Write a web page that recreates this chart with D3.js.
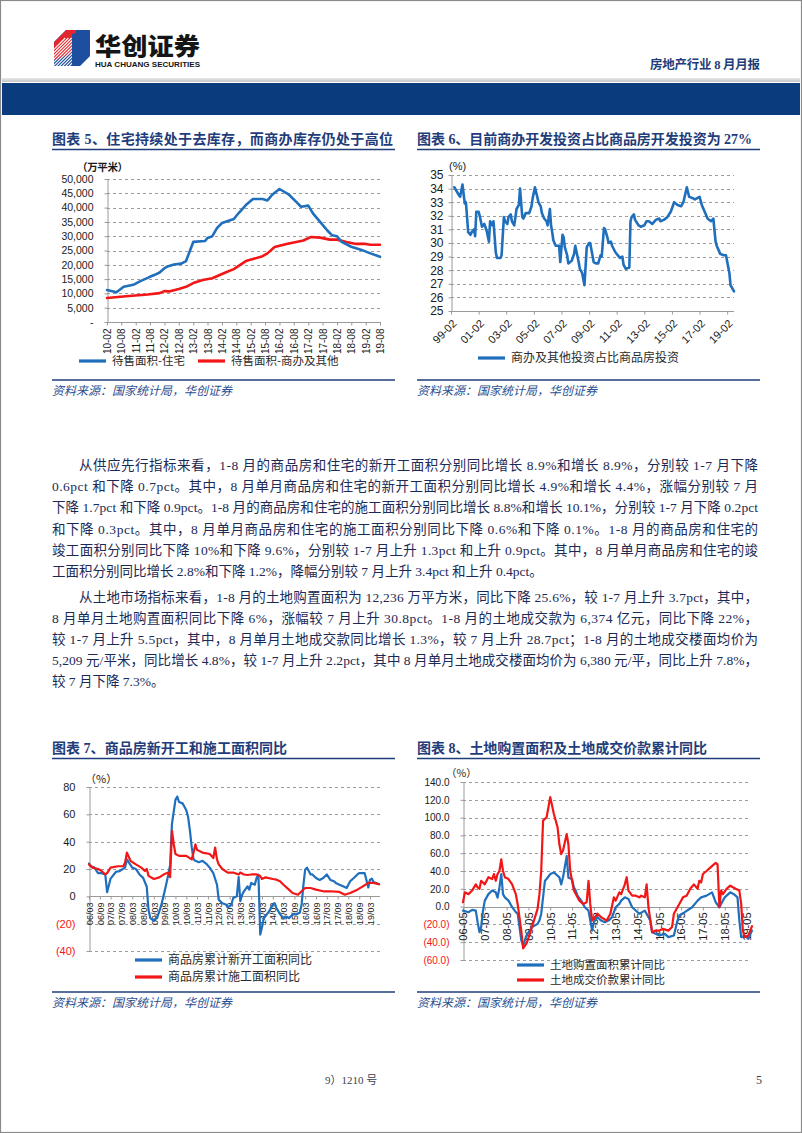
<!DOCTYPE html>
<html><head><meta charset="utf-8">
<script src="https://cdn.jsdelivr.net/npm/d3@7"></script>
<style>html,body{margin:0;padding:0;background:#fff}svg{display:block}</style>
</head><body>
<svg id="page" width="802" height="1133"></svg>
<script>
// ---------------- DATA ----------------
const ch5Ticks = ["2010-02","2010-08","2011-02","2011-08","2012-02","2012-08","2013-02","2013-08","2014-02","2014-08","2015-02","2015-08","2016-02","2016-08","2017-02","2017-08","2018-02","2018-08","2019-02","2019-08"];
const ch5YTicks = [0,5000,10000,15000,20000,25000,30000,35000,40000,45000,50000];
const ch5Residential = [["2010-02",11200],["2010-06",10400],["2010-09",12300],["2011-01",13000],["2011-04",14300],["2011-08",15800],["2011-10",16500],["2011-12",17300],["2012-02",18800],["2012-03",19300],["2012-06",20100],["2012-09",20400],["2012-11",21300],["2013-02",28000],["2013-07",28300],["2013-08",29400],["2013-10",30000],["2013-12",32900],["2014-02",34600],["2014-07",36000],["2014-09",38100],["2014-12",40900],["2015-03",43000],["2015-07",43000],["2015-09",42500],["2015-11",44500],["2016-02",46500],["2016-06",44500],["2016-09",42000],["2016-11",40300],["2017-02",40700],["2017-04",38000],["2017-07",35000],["2017-10",32000],["2017-12",30300],["2018-02",30000],["2018-04",28000],["2018-08",26300],["2018-12",25300],["2019-04",24000],["2019-08",22800]];
const ch5Commercial = [["2010-02",8400],["2010-10",9000],["2011-07",9600],["2011-12",10100],["2012-02",10800],["2012-04",10700],["2012-08",11500],["2012-11",12300],["2013-02",13600],["2013-06",14700],["2013-10",15300],["2014-02",16800],["2014-04",17500],["2014-07",18500],["2014-12",21300],["2015-03",22000],["2015-07",23000],["2015-09",24000],["2015-12",26200],["2016-05",27300],["2016-09",28000],["2016-12",28500],["2017-03",29700],["2017-07",29500],["2017-11",28800],["2018-02",28800],["2018-06",28000],["2018-10",27300],["2019-02",27300],["2019-04",27000],["2019-08",27000]];

const ch6Ticks = ["1999-02","2001-02","2003-02","2005-02","2007-02","2009-02","2011-02","2013-02","2015-02","2017-02","2019-02"];
const ch6YTicks = [25,26,27,28,29,30,31,32,33,34,35];
const ch6Share = [["1999-05",34.1],["1999-09",33.5],["1999-10",33.4],["1999-12",34.3],["2000-02",32.9],["2000-03",33.0],["2000-05",30.8],["2000-07",30.6],["2000-08",30.8],["2000-10",31.0],["2000-11",30.5],["2000-12",32.3],["2001-02",32.3],["2001-03",32.0],["2001-05",31.2],["2001-07",31.4],["2001-09",30.9],["2001-11",30.1],["2001-12",31.6],["2002-02",31.3],["2002-03",31.6],["2002-05",29.3],["2002-06",28.9],["2002-09",28.9],["2002-10",29.1],["2002-12",31.9],["2003-01",31.6],["2003-03",31.4],["2003-04",31.9],["2003-06",32.1],["2003-07",31.6],["2003-09",31.3],["2003-11",32.5],["2004-01",32.8],["2004-02",34.0],["2004-04",31.9],["2004-05",31.8],["2004-07",32.2],["2004-10",32.2],["2004-12",32.7],["2005-01",33.3],["2005-03",34.1],["2005-05",33.4],["2005-06",33.0],["2005-08",32.7],["2005-09",32.2],["2005-11",31.8],["2006-01",31.6],["2006-02",31.3],["2006-04",32.5],["2006-05",31.3],["2006-06",30.8],["2006-07",30.2],["2006-09",29.8],["2006-12",29.8],["2007-01",28.6],["2007-03",30.6],["2007-04",30.4],["2007-05",29.7],["2007-07",29.1],["2007-08",28.5],["2007-11",28.7],["2008-01",29.2],["2008-02",29.8],["2008-04",29.0],["2008-05",28.6],["2008-06",28.1],["2008-08",27.8],["2008-10",26.9],["2008-12",29.7],["2009-02",30.0],["2009-03",30.0],["2009-05",29.1],["2009-06",28.6],["2009-08",28.5],["2009-10",28.5],["2009-12",29.1],["2010-01",29.0],["2010-03",31.1],["2010-04",31.0],["2010-06",30.4],["2010-07",30.0],["2010-09",30.1],["2010-10",29.8],["2011-01",29.3],["2011-04",29.0],["2011-05",28.9],["2011-07",29.0],["2011-08",28.4],["2011-10",28.1],["2012-01",28.2],["2012-02",31.6],["2012-03",31.9],["2012-05",32.1],["2012-06",31.7],["2012-09",31.3],["2012-11",31.2],["2013-02",31.3],["2013-04",31.6],["2013-06",31.6],["2013-09",31.4],["2013-12",31.7],["2014-03",31.8],["2014-04",31.6],["2014-07",31.7],["2014-10",31.9],["2015-01",32.3],["2015-04",33.0],["2015-07",32.8],["2015-10",32.7],["2015-12",33.0],["2016-03",34.1],["2016-05",33.4],["2016-08",33.3],["2016-10",33.2],["2017-02",33.4],["2017-04",32.8],["2017-07",32.2],["2017-09",31.8],["2017-12",31.6],["2018-02",31.8],["2018-04",30.1],["2018-05",29.8],["2018-08",29.2],["2018-11",29.1],["2019-01",29.1],["2019-04",27.8],["2019-05",26.9],["2019-07",26.6],["2019-08",26.45]];

const ch7Ticks = ["2006-03","2006-09","2007-03","2007-09","2008-03","2008-09","2009-03","2009-09","2010-03","2010-09","2011-03","2011-09","2012-03","2012-09","2013-03","2013-09","2014-03","2014-09","2015-03","2015-09","2016-03","2016-09","2017-03","2017-09","2018-03","2018-09","2019-03"];
const ch7YTicks = [-40,-20,0,20,40,60,80];
const ch7NewStarts = [["2006-03",24],["2006-04",22],["2006-06",21],["2006-08",17],["2006-10",17],["2006-12",16],["2007-01",3],["2007-03",13],["2007-06",18],["2007-08",18.5],["2007-11",21],["2007-12",27],["2008-03",21],["2008-05",20],["2008-07",16],["2008-09",13.5],["2008-11",7],["2008-12",-10],["2009-01",-16],["2009-03",-18],["2009-05",-15],["2009-07",-7],["2009-09",4],["2009-11",16],["2009-12",23],["2010-01",53],["2010-03",70.6],["2010-04",73],["2010-05",69],["2010-07",68],["2010-09",63],["2010-10",58],["2010-11",48],["2010-12",36],["2011-01",27],["2011-02",26],["2011-04",25],["2011-06",26],["2011-08",24],["2011-10",21],["2011-12",17],["2012-02",8.5],["2012-03",-2.4],["2012-05",-5],["2012-07",-6],["2012-08",-8],["2012-10",-6],["2012-11",-1.2],["2013-01",0],["2013-02",14],["2013-03",-3.6],["2013-04",1.2],["2013-05",3.7],["2013-07",7.3],["2013-08",4.9],["2013-09",9.8],["2013-11",8.5],["2013-12",13.4],["2014-01",15.9],["2014-02",-28],["2014-03",-23],["2014-04",-16],["2014-07",-11],["2014-09",-6],["2014-10",-5],["2014-11",-8.5],["2015-01",-13],["2015-03",-16],["2015-05",-15],["2015-06",-16],["2015-08",-13.4],["2015-10",-13],["2015-12",-12],["2016-01",-6],["2016-02",8.5],["2016-03",19.5],["2016-04",21],["2016-05",18.5],["2016-06",16],["2016-07",16],["2016-09",13.4],["2016-11",12],["2017-01",13.4],["2017-03",16],["2017-05",12],["2017-07",11],["2017-08",9.8],["2017-10",8.5],["2017-12",7.3],["2018-02",6.1],["2018-03",8.5],["2018-04",11],["2018-06",13.4],["2018-08",16],["2018-09",17],["2018-11",17],["2018-12",17],["2019-02",6.5],["2019-03",12],["2019-04",13],["2019-05",10.5],["2019-06",10],["2019-07",9.5],["2019-08",8.9]];
const ch7UnderConstruction = [["2006-03",23.4],["2006-05",21],["2006-08",20],["2006-10",18.5],["2006-12",16],["2007-01",17],["2007-03",21],["2007-07",22],["2007-10",22],["2007-11",24.7],["2007-12",32],["2008-02",26],["2008-05",23.4],["2008-08",21],["2008-10",18.5],["2008-11",20],["2008-12",15],["2009-03",12.7],["2009-06",13.9],["2009-09",16.4],["2009-11",17.4],["2009-12",14],["2010-01",48],["2010-02",38],["2010-03",31],["2010-05",29.6],["2010-09",29.6],["2010-12",27],["2011-01",32],["2011-02",38],["2011-03",34],["2011-06",32],["2011-10",31],["2011-12",28],["2012-01",35.7],["2012-02",27],["2012-03",23.4],["2012-05",20],["2012-08",17.4],["2012-11",17.4],["2013-02",16],["2013-03",17.4],["2013-05",16],["2013-07",15.6],["2013-09",16],["2013-12",16],["2014-02",14.9],["2014-03",12.7],["2014-05",13.9],["2014-09",12.7],["2014-11",12.2],["2015-01",11],["2015-03",8.5],["2015-06",4.9],["2015-08",2.4],["2015-11",1.2],["2016-01",3.7],["2016-03",6.1],["2016-06",6.1],["2016-09",4.9],["2017-01",3.7],["2017-05",3.7],["2017-10",3.2],["2018-01",1.2],["2018-04",2.4],["2018-08",4.9],["2018-11",7.3],["2019-02",9.8],["2019-05",9.8],["2019-08",8.8]];

const ch8Ticks = ["2006-05","2007-05","2008-05","2009-05","2010-05","2011-05","2012-05","2013-05","2014-05","2015-05","2016-05","2017-05","2018-05","2019-05"];
const ch8YTicks = [-60,-40,-20,0,20,40,60,80,100,120,140];
const ch8LandArea = [["2006-05",-4.5],["2006-08",-6.3],["2006-10",-3.7],["2006-12",-4.5],["2007-01",-17.5],["2007-02",-28.7],["2007-03",-23],["2007-04",-4.5],["2007-05",6.7],["2007-07",14],["2007-09",18],["2007-11",16],["2007-12",10],["2008-01",21.6],["2008-02",36.6],["2008-03",14],["2008-04",10.4],["2008-06",6.7],["2008-08",-0.7],["2008-10",-6.3],["2008-11",-8],["2009-01",-38],["2009-02",-43.6],["2009-04",-32],["2009-07",-23],["2009-10",-19.4],["2009-11",-15.7],["2009-12",-8],["2010-02",29],["2010-03",31],["2010-05",36.6],["2010-07",38.4],["2010-09",34.7],["2010-10",32.8],["2010-11",25],["2010-12",33],["2011-02",57],["2011-03",32.5],["2011-05",31],["2011-06",21.6],["2011-07",18],["2011-08",12.3],["2011-10",6.7],["2011-12",-0.7],["2012-02",-4.5],["2012-04",-27],["2012-05",-17.5],["2012-07",-12],["2012-09",-15.7],["2012-11",-17.5],["2013-01",-15.7],["2013-03",-12],["2013-05",-0.7],["2013-07",3],["2013-08",6.7],["2013-10",10.4],["2013-12",8.6],["2014-02",-0.7],["2014-06",-8],["2014-09",-4.5],["2014-12",-15.7],["2015-01",-28.7],["2015-03",-30.6],["2015-05",-32.5],["2015-08",-30.6],["2015-10",-34.3],["2016-01",-32.5],["2016-03",-15.7],["2016-04",-10],["2016-07",-6.3],["2016-11",-0.7],["2017-02",6.7],["2017-04",10.4],["2017-07",12.3],["2017-10",16],["2017-12",4.9],["2018-02",-0.7],["2018-03",3],["2018-05",10.4],["2018-08",16],["2018-10",14],["2018-12",10.4],["2019-01",-15.7],["2019-02",-34.3],["2019-04",-32.5],["2019-06",-36.2],["2019-08",-27]];
const ch8LandValue = [["2006-05",4.9],["2006-06",16],["2006-08",14],["2006-10",18],["2006-12",25],["2007-01",21.6],["2007-02",20],["2007-03",29],["2007-05",25],["2007-07",33],["2007-09",31],["2007-10",36.6],["2007-11",29],["2007-12",36.6],["2008-01",40],["2008-02",53],["2008-03",40],["2008-04",33],["2008-06",31],["2008-08",25],["2008-10",14],["2008-11",3],["2009-01",-27],["2009-02",-47],["2009-04",-41],["2009-06",-29],["2009-08",-15.7],["2009-10",-2.6],["2009-11",14],["2009-12",40],["2010-01",96.6],["2010-03",100.4],["2010-04",111.7],["2010-05",123],["2010-07",104],["2010-09",89],["2010-10",70],["2010-11",59],["2010-12",63],["2011-02",81.5],["2011-03",70],["2011-04",40],["2011-05",29],["2011-06",18],["2011-08",10.4],["2011-09",6.7],["2011-11",3],["2012-01",4.9],["2012-02",29],["2012-03",3],["2012-04",-15.7],["2012-05",-13.8],["2012-07",-8],["2012-09",-12],["2012-12",-15.7],["2013-02",-8],["2013-04",10.4],["2013-05",6.7],["2013-07",16],["2013-08",14],["2013-10",25],["2013-11",33],["2013-12",18],["2014-02",12.3],["2014-04",12.3],["2014-06",10.4],["2014-07",12.3],["2014-09",10.4],["2014-10",25],["2014-11",-0.7],["2015-01",-28.7],["2015-03",-27],["2015-05",-27],["2015-07",-25],["2015-10",-27],["2015-12",-23],["2016-01",-8],["2016-03",-0.7],["2016-04",3],["2016-06",10.4],["2016-08",12.3],["2016-10",20],["2016-12",25],["2017-02",20],["2017-03",29],["2017-04",27],["2017-05",36.6],["2017-07",40],["2017-09",43.8],["2017-11",47.5],["2017-12",49],["2018-01",47.5],["2018-02",-0.7],["2018-03",18],["2018-04",14],["2018-06",20],["2018-08",23.5],["2018-11",20],["2019-01",18],["2019-02",3],["2019-03",-27],["2019-04",-34.3],["2019-06",-32.5],["2019-08",-22]];

const para1 = [
 "从供应先行指标来看，1-8 月的商品房和住宅的新开工面积分别同比增长 8.9%和增长 8.9%，分别较 1-7 月下降",
 "0.6pct 和下降 0.7pct。其中，8 月单月商品房和住宅的新开工面积分别同比增长 4.9%和增长 4.4%，涨幅分别较 7 月",
 "下降 1.7pct 和下降 0.9pct。1-8 月的商品房和住宅的施工面积分别同比增长 8.8%和增长 10.1%，分别较 1-7 月下降 0.2pct",
 "和下降 0.3pct。其中，8 月单月商品房和住宅的施工面积分别同比下降 0.6%和下降 0.1%。1-8 月的商品房和住宅的",
 "竣工面积分别同比下降 10%和下降 9.6%，分别较 1-7 月上升 1.3pct 和上升 0.9pct。其中，8 月单月商品房和住宅的竣",
 "工面积分别同比增长 2.8%和下降 1.2%，降幅分别较 7 月上升 3.4pct 和上升 0.4pct。"
];
const para2 = [
 "从土地市场指标来看，1-8 月的土地购置面积为 12,236 万平方米，同比下降 25.6%，较 1-7 月上升 3.7pct，其中，",
 "8 月单月土地购置面积同比下降 6%，涨幅较 7 月上升 30.8pct。1-8 月的土地成交款为 6,374 亿元，同比下降 22%，",
 "较 1-7 月上升 5.5pct，其中，8 月单月土地成交款同比增长 1.3%，较 7 月上升 28.7pct；1-8 月的土地成交楼面均价为",
 "5,209 元/平米，同比增长 4.8%，较 1-7 月上升 2.2pct，其中 8 月单月土地成交楼面均价为 6,380 元/平，同比上升 7.8%，",
 "较 7 月下降 7.3%。"
];

// ---------------- STYLE ----------------
const NAVY = "#1f3d7a", BLUE = "#1f6fbd", RED = "#f21616", GRID = "#9c9c9c", AXIS = "#9a9a9a";
const CJK = "'Noto Sans CJK SC', sans-serif";
const LAT = "'Liberation Sans', Arial, 'Noto Sans CJK SC', sans-serif";
const SERIF = "'Liberation Serif', 'Noto Sans CJK SC', serif";
const parse = d3.timeParse("%Y-%m");
const svg = d3.select("#page");

svg.append("rect").attr("x",0.5).attr("y",0.5).attr("width",801).attr("height",1132).attr("fill","none").attr("stroke","#8a8a8a").attr("stroke-width",1.2);

// ---------------- HEADER ----------------
const defs = svg.append("defs");
const gg = defs.append("linearGradient").attr("id","gline").attr("x1",0).attr("y1",0).attr("x2",0).attr("y2",1);
gg.append("stop").attr("offset","0%").attr("stop-color","#e8e8e8");
gg.append("stop").attr("offset","100%").attr("stop-color","#c4c4c4");
svg.append("rect").attr("x",2).attr("y",78).attr("width",798).attr("height",4).attr("fill","url(#gline)");
svg.append("rect").attr("x",2).attr("y",83).attr("width",798).attr("height",32).attr("fill","#0a3b7c");

defs.append("clipPath").attr("id","logoClip").append("path").attr("d","M54,42 L66,30 L90,30 L90,56 L80,66 L54,66 Z");
const logo = svg.append("g").attr("clip-path","url(#logoClip)");
logo.append("rect").attr("x",54).attr("y",30).attr("width",36).attr("height",36).attr("fill","#1e4f9e");
logo.append("path").attr("d","M54,42 L66,30 L76,30 L76,50 L66,56 L54,60 Z").attr("fill","#e3262d");
for (let i = -4; i < 12; i++) {
  logo.append("line").attr("x1",48+i*3.2).attr("y1",68).attr("x2",48+i*3.2+30).attr("y2",38)
    .attr("stroke","#fff").attr("stroke-width",1.1);
}
logo.append("path").attr("d","M72,34 L90,30 L90,56 L80,66 L72,66 Z").attr("fill","#1e4f9e");
svg.append("text").attr("x",95).attr("y",54.5).attr("font-family",CJK).attr("font-weight",900).attr("font-size",24)
  .attr("textLength",105).attr("lengthAdjust","spacingAndGlyphs").attr("fill","#151515").text("华创证券");
svg.append("text").attr("x",95).attr("y",67).attr("font-family",LAT).attr("font-weight",700).attr("font-size",8)
  .attr("textLength",105).attr("lengthAdjust","spacingAndGlyphs").attr("fill","#151515").text("HUA CHUANG SECURITIES");
svg.append("text").attr("x",650).attr("y",69).attr("font-family",SERIF).attr("font-weight",700).attr("font-size",12.5)
  .attr("textLength",110).attr("fill",NAVY).text("房地产行业 8 月月报");

// ---------------- HELPERS ----------------
function chartTitle(x, y, w, ruleX2, txt) {
  svg.append("text").attr("x",x).attr("y",y+5).attr("font-family",SERIF).attr("font-weight",700).attr("font-size",14)
    .attr("textLength",w).attr("fill",NAVY).text(txt);
  svg.append("line").attr("x1",x).attr("x2",ruleX2).attr("y1",y+10.5).attr("y2",y+10.5).attr("stroke",NAVY).attr("stroke-width",1.6);
}
function sourceBlock(x, x2, yRule) {
  svg.append("line").attr("x1",x).attr("x2",x2).attr("y1",yRule).attr("y2",yRule).attr("stroke",NAVY).attr("stroke-width",1.6);
  svg.append("text").attr("x",x).attr("y",yRule+15).attr("font-family",CJK).attr("font-style","italic").attr("font-size",12)
    .attr("fill","#2b4f91").text("资料来源：国家统计局，华创证券");
}
function legendItem(x1, y, color, label, fs) {
  svg.append("line").attr("x1",x1).attr("x2",x1+27).attr("y1",y).attr("y2",y).attr("stroke",color).attr("stroke-width",3.2);
  svg.append("text").attr("x",x1+33).attr("y",y+4).attr("font-family",CJK).attr("font-size",fs).attr("fill","#2a2a2a").text(label);
}
function drawChart(o) {
  const g = svg.append("g");
  const x = d3.scaleTime().domain(o.xDomain.map(parse)).range(o.xRange);
  const y = d3.scaleLinear().domain(o.yDomain).range(o.yRange);
  g.selectAll("line.grid").data(o.yTicks.filter(t => t !== o.axisAt)).join("line").attr("class","grid")
    .attr("x1",o.xRange[0]).attr("x2",o.gridEnd)
    .attr("y1",d => Math.round(y(d))+0.5).attr("y2",d => Math.round(y(d))+0.5)
    .attr("stroke",GRID).attr("stroke-width",1).attr("stroke-dasharray","3,3");
  const ya = g.append("g").attr("transform",`translate(${Math.round(o.xRange[0])+0.5},0)`)
    .call(d3.axisLeft(y).tickValues(o.yTicks).tickSize(3).tickSizeOuter(0).tickPadding(o.yPad).tickFormat(o.yFmt));
  ya.select(".domain").attr("stroke",AXIS);
  ya.selectAll(".tick line").attr("stroke",AXIS);
  ya.selectAll(".tick text").attr("font-family",LAT).attr("font-size",o.yFont).attr("fill",d => d < 0 ? RED : "#1a1a1a");
  const xa = g.append("g").attr("transform",`translate(0,${Math.round(y(o.axisAt))+0.5})`)
    .call(d3.axisBottom(x).tickValues(o.xTicks.map(parse)).tickSize(3).tickSizeOuter(0).tickFormat(d3.timeFormat(o.xFmt)));
  xa.select(".domain").remove();
  xa.insert("line",":first-child").attr("x1",o.xRange[0]).attr("x2",o.gridEnd).attr("stroke",AXIS);
  xa.selectAll(".tick line").attr("stroke",AXIS);
  const xt = xa.selectAll(".tick text").attr("font-family",LAT).attr("font-size",o.xFont).attr("fill","#1a1a1a").attr("text-anchor","end");
  if (o.xRotate === -90) xt.attr("transform","rotate(-90)").attr("x",-o.xOff).attr("y",0).attr("dy","0.35em");
  else xt.attr("transform",`translate(3,${o.xOff}) rotate(-45)`).attr("x",0).attr("y",0).attr("dy","0.35em");
  const line = d3.line().x(d => x(parse(d[0]))).y(d => y(d[1]));
  o.series.forEach(s => {
    g.append("path").datum(s.data).attr("fill","none").attr("stroke",s.color).attr("stroke-width",o.lineW)
      .attr("stroke-linejoin","round").attr("stroke-linecap","round").attr("d",line);
  });
}

// ---------------- CHART 5 ----------------
chartTitle(52, 139, 341, 395, "图表 5、住宅持续处于去库存，而商办库存仍处于高位");
svg.append("text").attr("x",77).attr("y",170.5).attr("font-family",CJK).attr("font-weight",700).attr("font-size",10.5)
  .attr("textLength",51).attr("fill","#1a1a1a").text("（万平米）");
drawChart({xDomain:["2010-02","2019-08"], xRange:[107,380], yDomain:[0,50000], yRange:[322,179], gridEnd:381,
  yTicks:ch5YTicks, axisAt:0, yFmt:v => v === 0 ? "-" : d3.format(",")(v), yFont:10.5, yPad:11,
  xTicks:ch5Ticks, xFmt:"%y-%m", xFont:10, xRotate:-90, xOff:6, lineW:2.6,
  series:[{data:ch5Commercial,color:RED},{data:ch5Residential,color:BLUE}]});
legendItem(79, 361, BLUE, "待售面积-住宅", 11.5);
legendItem(198, 361, RED, "待售面积-商办及其他", 11.5);
sourceBlock(52, 395, 380);

// ---------------- CHART 6 ----------------
chartTitle(417, 139, 335, 760, "图表 6、目前商办开发投资占比商品房开发投资为 27%");
svg.append("text").attr("x",449).attr("y",170).attr("font-family",LAT).attr("font-size",11).attr("fill","#1a1a1a").text("(%)");
drawChart({xDomain:["1999-02","2019-08"], xRange:[451,734], yDomain:[25,35], yRange:[311,175], gridEnd:734,
  yTicks:ch6YTicks, axisAt:25, yFmt:d3.format("d"), yFont:12, yPad:5,
  xTicks:ch6Ticks, xFmt:"%y-%m", xFont:11, xRotate:-45, xOff:10, lineW:2.6,
  series:[{data:ch6Share,color:BLUE}]});
legendItem(478, 358, BLUE, "商办及其他投资占比商品房投资", 12);
sourceBlock(417, 760, 380);

// ---------------- BODY TEXT ----------------
function paragraph(lines, y0, step) {
  lines.forEach((t, i) => {
    const x = i === 0 ? 79 : 52;
    const tx = svg.append("text").attr("x",x).attr("y",y0 + i*step).attr("font-family",SERIF).attr("font-size",13.5)
      .attr("fill","#1b2a55").text(t);
    if (i < lines.length - 1) tx.attr("textLength",758 - x).attr("lengthAdjust","spacing");
  });
}
paragraph(para1, 470, 21.2);
paragraph(para2, 602, 21);

// ---------------- CHART 7 ----------------
chartTitle(52, 748, 235, 395, "图表 7、商品房新开工和施工面积同比");
svg.append("text").attr("x",85).attr("y",783).attr("font-family",CJK).attr("font-size",11).attr("fill","#1a1a1a").text("（%）");
drawChart({xDomain:["2006-03","2019-08"], xRange:[89,379], yDomain:[-40,80], yRange:[951,787], gridEnd:380,
  yTicks:ch7YTicks, axisAt:0, yFmt:v => v < 0 ? `(${-v})` : `${v}`, yFont:11, yPad:11,
  xTicks:ch7Ticks, xFmt:"%y/%m", xFont:9, xRotate:-90, xOff:6, lineW:2.2,
  series:[{data:ch7NewStarts,color:BLUE},{data:ch7UnderConstruction,color:RED}]});
legendItem(135, 960, BLUE, "商品房累计新开工面积同比", 12);
legendItem(135, 977, RED, "商品房累计施工面积同比", 12);
sourceBlock(52, 395, 992);

// ---------------- CHART 8 ----------------
chartTitle(417, 748, 290, 760, "图表 8、土地购置面积及土地成交价款累计同比");
svg.append("text").attr("x",446).attr("y",777).attr("font-family",CJK).attr("font-size",10.5).attr("fill","#1a1a1a").text("（%）");
drawChart({xDomain:["2006-05","2019-08"], xRange:[463,752], yDomain:[-60,140], yRange:[960,782], gridEnd:750,
  yTicks:ch8YTicks, axisAt:0, yFmt:v => v < 0 ? `(${(-v).toFixed(1)})` : v.toFixed(1), yFont:10, yPad:11,
  xTicks:ch8Ticks, xFmt:"%y-%m", xFont:11, xRotate:-90, xOff:5, lineW:2.2,
  series:[{data:ch8LandArea,color:BLUE},{data:ch8LandValue,color:RED}]});
legendItem(517, 965, BLUE, "土地购置面积累计同比", 11.5);
legendItem(517, 980, RED, "土地成交价款累计同比", 11.5);
sourceBlock(417, 760, 992);

// ---------------- FOOTER ----------------
svg.append("text").attr("x",325).attr("y",1084).attr("font-family",SERIF).attr("font-size",11).attr("fill","#3a3f55").text("9）1210 号");
svg.append("text").attr("x",756).attr("y",1084).attr("font-family",SERIF).attr("font-size",12).attr("fill","#3a3f55").text("5");
</script>
</body></html>
